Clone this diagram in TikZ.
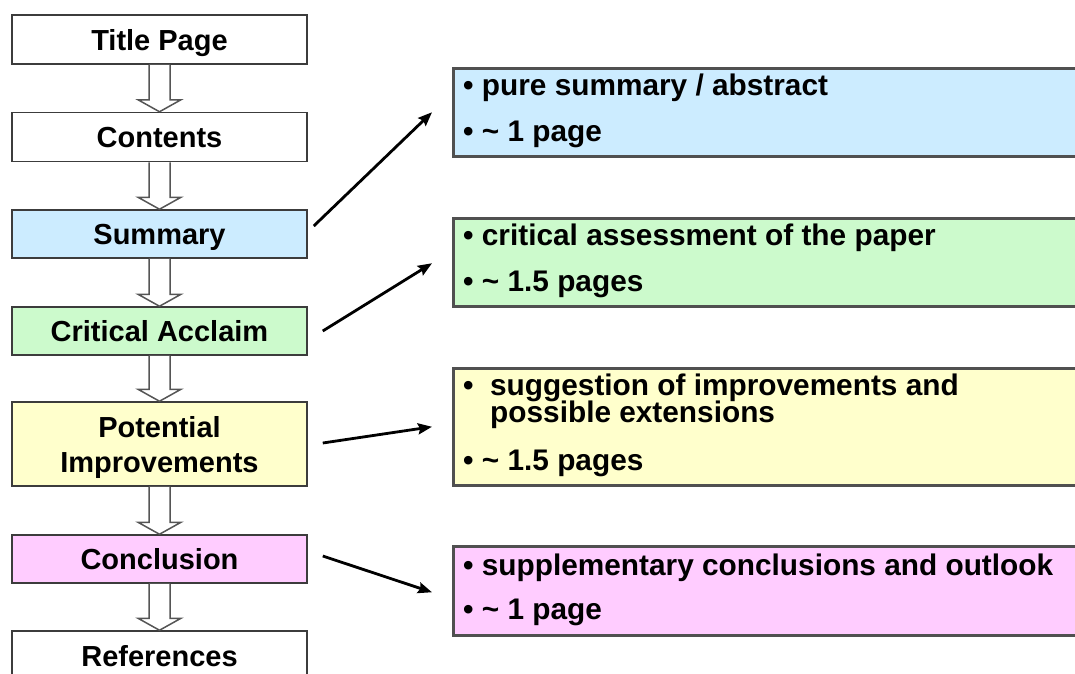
\documentclass[tikz,border=0pt]{standalone}
\usepackage{fontspec}
\setmainfont{Liberation Sans}
\usetikzlibrary{calc,arrows.meta}
\definecolor{cblue}{RGB}{204,236,255}
\definecolor{cgreen}{RGB}{204,250,204}
\definecolor{cyellow}{RGB}{255,255,204}
\definecolor{cpink}{RGB}{255,204,255}
\definecolor{boxline}{RGB}{60,60,60}
\definecolor{rboxline}{RGB}{80,80,80}
\definecolor{blkline}{RGB}{85,85,85}
\tikzset{
  lbox/.style={draw=boxline, line width=1.5pt, minimum width=295pt, minimum height=49pt,
    inner sep=0pt, align=center, text depth=0pt, font=\bfseries\fontsize{29}{35}\selectfont},
  rbox/.style={draw=rboxline, line width=2.5pt, minimum width=633pt, anchor=north west, inner sep=0pt},
  btxt/.style={anchor=base west, inner sep=0pt, font=\bfseries\fontsize{29.8}{27}\selectfont},
  conn/.style={-{Stealth[length=14pt,width=11pt,inset=2pt]}, line width=2.8pt},
  blk/.style={draw=blkline, fill=white, line width=1.5pt, line join=miter},
}
\newcommand{\blockdown}[2]{%
  \filldraw[blk] let \p1=(#1.south), \p2=(#2.north) in
    (\x1-10.5pt,\y1) -- (\x1-10.5pt,\y2+12pt) -- (\x1-21.5pt,\y2+12pt) -- (\x1,\y2)
    -- (\x1+21.5pt,\y2+12pt) -- (\x1+10.5pt,\y2+12pt) -- (\x1+10.5pt,\y1);}
\begin{document}
\begin{tikzpicture}[x=1pt,y=-1pt]
\useasboundingbox (0,0) rectangle (1075,673);
\clip (0,0) rectangle (1075,673);
\fill[white] (0,0) rectangle (1075,673);

% left column
\node[lbox, fill=white] (title) at (159.5,39.5) {Title Page};
\node[lbox, fill=white] (cont) at (159.5,137) {Contents};
\node[lbox, fill=cblue, minimum height=48pt] (sum) at (159.5,234) {Summary};
\node[lbox, fill=cgreen, minimum height=48pt] (crit) at (159.5,331) {Critical Acclaim};
\node[lbox, fill=cyellow, minimum height=84pt] (pot) at (159.5,444) {Potential\\Improvements};
\node[lbox, fill=cpink, minimum height=48pt] (conc) at (159.5,559) {Conclusion};
\node[lbox, fill=white] (refs) at (159.5,655.5) {References};

\blockdown{title}{cont}
\blockdown{cont}{sum}
\blockdown{sum}{crit}
\blockdown{crit}{pot}
\blockdown{pot}{conc}
\blockdown{conc}{refs}

% right column
\node[rbox, fill=cblue, minimum height=88pt] (r1) at (452,67) {};
\node[rbox, fill=cgreen, minimum height=88pt] (r2) at (452,217) {};
\node[rbox, fill=cyellow, minimum height=117pt] (r3) at (452,367) {};
\node[rbox, fill=cpink, minimum height=89pt] (r4) at (452,545) {};

\node[btxt] (t1a) at (463,95) {• pure summary / abstract};
\node[btxt] (t1b) at (463,141) {• \textasciitilde\ 1 page};
\node[btxt] (t2a) at (463,245) {• critical assessment of the paper};
\node[btxt] (t2b) at (463,291) {• \textasciitilde\ 1.5 pages};
\node[btxt] (t3a) at (463,395) {\makebox[27pt][l]{•}suggestion of improvements and};
\node[btxt] (t3b) at (490,422) {possible extensions};
\node[btxt] (t3c) at (463,470) {• \textasciitilde\ 1.5 pages};
\node[btxt] (t4a) at (463,575) {• supplementary conclusions and outlook};
\node[btxt] (t4b) at (463,619) {• \textasciitilde\ 1 page};

% connectors
\coordinate (a1s) at ($(sum.east)+(6,-8)$);
\coordinate (a1e) at ($(r1.west)+(-20,0)$);
\coordinate (a2s) at ($(crit.east)+(15,0)$);
\coordinate (a2e) at ($(r2.west)+(-20,1)$);
\coordinate (a3s) at ($(pot.east)+(15,-1)$);
\coordinate (a3e) at ($(r3.west)+(-20,0)$);
\coordinate (a4s) at ($(conc.east)+(15,-3)$);
\coordinate (a4e) at ($(r4.west)+(-20,1.5)$);
\draw[conn] (a1s) -- (a1e);
\draw[conn] (a2s) -- (a2e);
\draw[conn] (a3s) -- (a3e);
\draw[conn] (a4s) -- (a4e);
\end{tikzpicture}
\end{document}
